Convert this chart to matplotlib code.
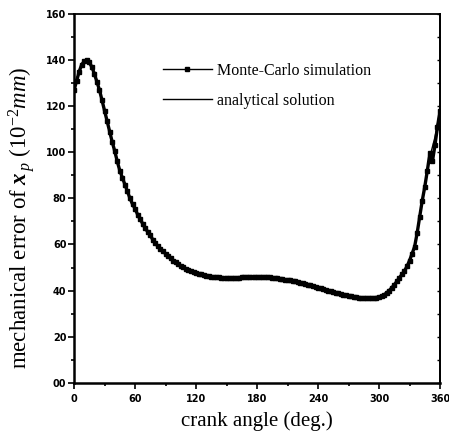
import matplotlib
matplotlib.use("Agg")
import matplotlib.pyplot as plt
from matplotlib.lines import Line2D
import numpy as np

# analytical solution, every 5 deg
ang_an = np.arange(0, 361, 5)
err_an = [128, 135, 139.5, 139, 134, 127, 118, 109, 100.5, 92,
          86, 80, 75.5, 71, 67, 64, 60.5, 58, 56, 54,
          52.2, 50.8, 49.5, 48.5, 47.7, 47, 46.4, 46, 45.8, 45.6,
          45.5, 45.5, 45.6, 45.7, 45.8, 45.9, 46, 46, 45.8, 45.6,
          45.3, 45, 44.6, 44.2, 43.8, 43.2, 42.6, 42, 41.3, 40.6,
          40, 39.4, 38.8, 38.2, 37.7, 37.3, 37, 36.8, 36.7, 36.8,
          37.2, 38.2, 40, 42.5, 45.5, 48.5, 53, 59, 72, 85,
          98, 106.5, 118]

# Monte-Carlo simulation, every 2.5 deg
ang_mc = np.arange(0, 360.1, 2.5)
err_mc = [127, 131, 135, 138, 139.5, 140, 139, 137, 134, 130.5, 127, 122.5, 118,
          113.5, 109, 104.5, 100.5, 96, 92, 89, 86, 83, 80, 77.5, 75.5,
          73, 71, 69, 67, 65.5, 64, 62, 60.5, 59.2, 58, 57, 56,
          55, 54, 53, 52.2, 51.5, 50.8, 50.1, 49.5, 49, 48.5, 48.1, 47.7,
          47.3, 47, 46.7, 46.4, 46.2, 46, 45.9, 45.8, 45.7, 45.6, 45.5, 45.5,
          45.5, 45.5, 45.5, 45.6, 45.6, 45.7, 45.7, 45.8, 45.9, 45.9, 46, 46,
          46, 46, 45.9, 45.8, 45.7, 45.6, 45.5, 45.3, 45.2, 45, 44.8, 44.6,
          44.4, 44.2, 44, 43.8, 43.5, 43.2, 42.9, 42.6, 42.3, 42, 41.7, 41.3,
          41, 40.6, 40.3, 40, 39.7, 39.4, 39.1, 38.8, 38.5, 38.2, 37.9, 37.7,
          37.5, 37.3, 37.1, 37, 36.9, 36.8, 36.7, 36.7, 36.7, 36.8, 37, 37.2,
          37.6, 38.2, 39, 40, 41.2, 42.5, 44, 45.5, 47, 48.5, 50.5, 53,
          56, 59, 65, 72, 79, 85, 92, 99.5, 96, 103, 111, 118]

xticks = [0, 60, 120, 180, 240, 300, 360]
yticks = [0, 20, 40, 60, 80, 100, 120, 140, 160]
ylabels = ["00", "20", "40", "60", "80", "100", "120", "140", "160"]

plt.rcParams["mathtext.fontset"] = "custom"
plt.rcParams["mathtext.rm"] = "Liberation Serif"
plt.rcParams["mathtext.it"] = "Liberation Serif:italic"
plt.rcParams["mathtext.bf"] = "Liberation Serif:bold:italic"

fig = plt.figure(figsize=(4.49, 4.36), dpi=100)
ax = fig.add_axes([0.165, 0.122, 0.815, 0.846])

ax.plot(ang_mc, err_mc, color="black", lw=2.4, marker="s", ms=3.4)
ax.plot(ang_an, err_an, color="black", lw=1.0)

ax.set_xlim(0, 360)
ax.set_ylim(0, 160)
ax.set_xticks(xticks)
ax.set_xticks(np.arange(30, 360, 60), minor=True)
ax.set_yticks(yticks)
ax.set_yticks(np.arange(10, 160, 20), minor=True)
ax.set_yticklabels(ylabels)

tick_font = matplotlib.font_manager.FontProperties(family="DejaVu Sans", weight="bold", size=7)
for lab in ax.get_xticklabels() + ax.get_yticklabels():
    lab.set_fontproperties(tick_font)

ax.tick_params(which="major", direction="out", length=4, width=1.2)
ax.tick_params(which="minor", direction="out", length=2.5, width=1.2)
ax.tick_params(axis="x", which="major", pad=4)
ax.tick_params(axis="y", which="major", pad=1.5)

# right axis: small inward ticks, no labels
sec = ax.secondary_yaxis("right")
sec.set_yticks(yticks)
sec.set_yticks(np.arange(10, 160, 20), minor=True)
sec.tick_params(which="both", direction="in", length=2.5, width=1.0, labelright=False)

for side in ["left", "bottom"]:
    ax.spines[side].set_linewidth(1.8)
for side in ["top", "right"]:
    ax.spines[side].set_linewidth(1.3)
sec.spines["right"].set_linewidth(1.3)

ax.set_xlabel("crank angle (deg.)", family="Liberation Serif", fontsize=15, labelpad=5)
ax.set_ylabel(r"mechanical error of $\mathbf{x}_{\,p}$ (10$^{-2}$$\mathit{mm}$)",
              family="Liberation Serif", fontsize=16.5)
ax.yaxis.set_label_coords(-0.100, 0.447)

handles = [Line2D([], [], color="black", lw=1.0, marker="s", ms=2.5),
           Line2D([], [], color="black", lw=1.0)]
ax.legend(handles, ["Monte-Carlo simulation", "analytical solution"],
          loc="upper left", bbox_to_anchor=(0.243, 0.867), frameon=False,
          borderaxespad=0, borderpad=0,
          prop=dict(family="Liberation Serif", size=11.5),
          handlelength=3.05, handletextpad=0.3, labelspacing=0.85)

fig.savefig("out.png", dpi=100)
